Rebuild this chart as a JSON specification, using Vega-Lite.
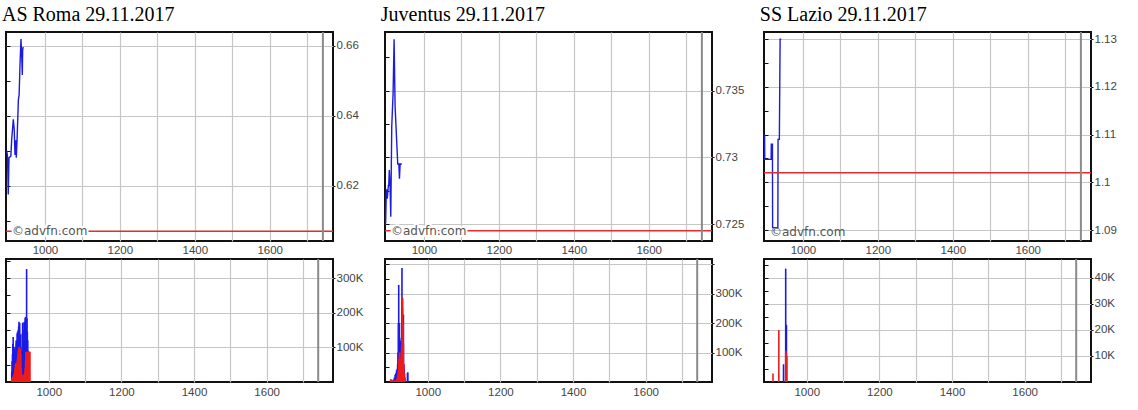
{
  "$schema": "https://vega.github.io/schema/vega-lite/v6.json",
  "padding": {"left": 0, "top": 4, "right": 0, "bottom": 0},
  "background": "white",
  "config": {
    "view": {"stroke": "#111", "strokeWidth": 2},
    "axis": {"labelFont": "Liberation Sans", "labelFontSize": 11.5, "labelColor": "#444", "gridColor": "#c6c6c6", "gridWidth": 1.2, "domain": false, "title": null, "tickColor": "#111"},
    "title": {"font": "Liberation Serif", "fontSize": 20, "fontWeight": "normal", "color": "#000", "anchor": "start", "offset": 6}
  },
  "datasets": {
    "roma_price": [
      {"t": 898, "price": 0.630}, {"t": 900, "price": 0.6285}, {"t": 902, "price": 0.6175}, {"t": 904, "price": 0.628},
      {"t": 909, "price": 0.6285}, {"t": 911, "price": 0.633}, {"t": 915.5, "price": 0.639}, {"t": 918, "price": 0.636},
      {"t": 920, "price": 0.6288}, {"t": 922, "price": 0.633}, {"t": 923.5, "price": 0.628}, {"t": 925.5, "price": 0.633},
      {"t": 929, "price": 0.6445}, {"t": 931, "price": 0.646}, {"t": 933.5, "price": 0.655}, {"t": 936, "price": 0.662},
      {"t": 938, "price": 0.657}, {"t": 939.5, "price": 0.6517}, {"t": 940.5, "price": 0.659}, {"t": 942, "price": 0.6597}
    ],
    "juve_price": [
      {"t": 897.7, "price": 0.72505}, {"t": 899.5, "price": 0.72755}, {"t": 901, "price": 0.72755}, {"t": 902, "price": 0.7269},
      {"t": 905, "price": 0.7279}, {"t": 906, "price": 0.7279}, {"t": 907.5, "price": 0.72905}, {"t": 909.6, "price": 0.7278},
      {"t": 911.4, "price": 0.72555}, {"t": 914, "price": 0.7323}, {"t": 917.6, "price": 0.7348}, {"t": 920.3, "price": 0.73886},
      {"t": 923, "price": 0.7338}, {"t": 927.4, "price": 0.7311}, {"t": 930, "price": 0.7295}, {"t": 933, "price": 0.7295},
      {"t": 934.6, "price": 0.7284}, {"t": 936.4, "price": 0.7295}, {"t": 941, "price": 0.7295}
    ],
    "lazio_price": [
      {"t": 897.6, "price": 1.110}, {"t": 898, "price": 1.1048}, {"t": 915, "price": 1.1048}, {"t": 915.5, "price": 1.108},
      {"t": 918.5, "price": 1.108}, {"t": 919, "price": 1.0905}, {"t": 933, "price": 1.0905}, {"t": 933.5, "price": 1.109},
      {"t": 937, "price": 1.109}, {"t": 939, "price": 1.13}, {"t": 942, "price": 1.13}
    ],
    "roma_vol": [
      {"t": 898, "v_blue": 30000, "v_red": 10000}, {"t": 899, "v_blue": 60000, "v_red": 10000}, {"t": 900, "v_blue": 80000, "v_red": 12000},
      {"t": 901, "v_blue": 110000, "v_red": 15000}, {"t": 902, "v_blue": 130000, "v_red": 15000}, {"t": 903, "v_blue": 100000, "v_red": 15000},
      {"t": 904, "v_blue": 87000, "v_red": 20000}, {"t": 905, "v_blue": 95000, "v_red": 25000}, {"t": 906, "v_blue": 60000, "v_red": 30000},
      {"t": 907, "v_blue": 102000, "v_red": 40000}, {"t": 908, "v_blue": 70000, "v_red": 50000}, {"t": 909, "v_blue": 90000, "v_red": 54000},
      {"t": 910, "v_blue": 120000, "v_red": 54000}, {"t": 911, "v_blue": 110000, "v_red": 54000}, {"t": 912, "v_blue": 120000, "v_red": 54000},
      {"t": 913, "v_blue": 140000, "v_red": 60000}, {"t": 914, "v_blue": 145000, "v_red": 70000}, {"t": 915, "v_blue": 130000, "v_red": 80000},
      {"t": 916, "v_blue": 150000, "v_red": 90000}, {"t": 917, "v_blue": 160000, "v_red": 95000}, {"t": 918, "v_blue": 174000, "v_red": 100000},
      {"t": 919, "v_blue": 150000, "v_red": 100000}, {"t": 920, "v_blue": 170000, "v_red": 97000}, {"t": 921, "v_blue": 120000, "v_red": 95000},
      {"t": 922, "v_blue": 137000, "v_red": 90000}, {"t": 923, "v_blue": 100000, "v_red": 80000}, {"t": 924, "v_blue": 80000, "v_red": 40000},
      {"t": 925, "v_blue": 70000, "v_red": 25000}, {"t": 926, "v_blue": 90000, "v_red": 20000}, {"t": 927, "v_blue": 140000, "v_red": 20000},
      {"t": 928, "v_blue": 170000, "v_red": 20000}, {"t": 929, "v_blue": 172000, "v_red": 20000}, {"t": 930, "v_blue": 120000, "v_red": 20000},
      {"t": 931, "v_blue": 90000, "v_red": 20000}, {"t": 932, "v_blue": 150000, "v_red": 20000}, {"t": 933, "v_blue": 174000, "v_red": 25000},
      {"t": 934, "v_blue": 160000, "v_red": 30000}, {"t": 935, "v_blue": 184000, "v_red": 40000}, {"t": 936, "v_blue": 188000, "v_red": 60000},
      {"t": 937, "v_blue": 120000, "v_red": 85000}, {"t": 938, "v_blue": 100000, "v_red": 87000}, {"t": 939, "v_blue": 326000, "v_red": 87000},
      {"t": 940, "v_blue": 184000, "v_red": 87000}, {"t": 941, "v_blue": 145000, "v_red": 87000}, {"t": 942, "v_blue": 120000, "v_red": 87000},
      {"t": 943, "v_blue": 90000, "v_red": 87000}, {"t": 944, "v_blue": 87000, "v_red": 87000}, {"t": 945, "v_blue": 0, "v_red": 87000},
      {"t": 946, "v_blue": 0, "v_red": 87000}, {"t": 947, "v_blue": 0, "v_red": 87000}, {"t": 948, "v_blue": 0, "v_red": 87000}
    ],
    "juve_vol": [
      {"t": 898, "v_blue": 5000, "v_red": 10000}, {"t": 900, "v_blue": 5000, "v_red": 8000}, {"t": 902, "v_blue": 3000, "v_red": 5000},
      {"t": 905, "v_blue": 8000, "v_red": 3000}, {"t": 908, "v_blue": 15000, "v_red": 5000}, {"t": 910, "v_blue": 25000, "v_red": 5000},
      {"t": 912, "v_blue": 30000, "v_red": 5000}, {"t": 914, "v_blue": 40000, "v_red": 10000}, {"t": 916, "v_blue": 45000, "v_red": 15000},
      {"t": 917, "v_blue": 60000, "v_red": 20000}, {"t": 918, "v_blue": 100000, "v_red": 30000}, {"t": 919, "v_blue": 200000, "v_red": 40000},
      {"t": 920, "v_blue": 330000, "v_red": 60000}, {"t": 921, "v_blue": 150000, "v_red": 80000}, {"t": 922, "v_blue": 200000, "v_red": 100000},
      {"t": 923, "v_blue": 120000, "v_red": 70000}, {"t": 924, "v_blue": 137000, "v_red": 60000}, {"t": 925, "v_blue": 140000, "v_red": 60000},
      {"t": 926, "v_blue": 137000, "v_red": 80000}, {"t": 927, "v_blue": 150000, "v_red": 100000}, {"t": 928, "v_blue": 130000, "v_red": 120000},
      {"t": 929, "v_blue": 387000, "v_red": 150000}, {"t": 930, "v_blue": 250000, "v_red": 250000}, {"t": 931, "v_blue": 200000, "v_red": 285000},
      {"t": 932, "v_blue": 215000, "v_red": 200000}, {"t": 933, "v_blue": 229000, "v_red": 130000}, {"t": 934, "v_blue": 60000, "v_red": 60000},
      {"t": 935, "v_blue": 46000, "v_red": 30000}, {"t": 936, "v_blue": 30000, "v_red": 10000}, {"t": 937, "v_blue": 15000, "v_red": 5000},
      {"t": 944, "v_blue": 30000, "v_red": 0}, {"t": 945, "v_blue": 33000, "v_red": 0}
    ],
    "lazio_vol": [
      {"t": 907, "v_blue": 0, "v_red": 3300}, {"t": 923, "v_blue": 0, "v_red": 20000}, {"t": 936, "v_blue": 6800, "v_red": 0},
      {"t": 942, "v_blue": 43500, "v_red": 12000}, {"t": 943, "v_blue": 22000, "v_red": 11000}, {"t": 944, "v_blue": 21800, "v_red": 11000},
      {"t": 945, "v_blue": 0, "v_red": 10000}
    ]
  },
  "columns": 3,
  "spacing": {"row": 18, "column": 52},
  "bounds": "flush",
  "concat": [
    {
      "title": {"text": "AS Roma 29.11.2017", "dx": -2},
      "width": 327, "height": 209,
      "resolve": {"axis": {"y": "independent"}},
      "layer": [
        {"data": {"name": "roma_price"}, "mark": {"type": "line", "color": "#1c1ce0", "strokeWidth": 1.4},
         "encoding": {
           "x": {"field": "t", "type": "quantitative", "scale": {"domain": [896, 1769], "nice": false, "zero": false},
                 "axis": {"orient": "bottom", "values": [1000, 1100, 1200, 1300, 1400, 1500, 1600, 1700], "format": "d", "labelExpr": "datum.value % 200 == 0 ? datum.label : ''", "ticks": false, "labelPadding": 3}},
           "y": {"field": "price", "type": "quantitative", "scale": {"domain": [0.6042, 0.664], "nice": false, "zero": false},
                 "axis": {"orient": "right", "values": [0.62, 0.64, 0.66], "format": "~g", "tickSize": 2, "labelPadding": 1}}}},
        {"data": {"values": [{}]}, "mark": {"type": "rule", "color": "#e52b2b", "strokeWidth": 1.6},
         "encoding": {"y": {"datum": 0.607, "axis": {"orient": "left", "values": [0.61, 0.62, 0.63, 0.64, 0.65, 0.66], "labels": false, "grid": false, "tickSize": -4}}}},
        {"data": {"values": [{}]}, "mark": {"type": "rule", "color": "#8a8a8a", "strokeWidth": 2},
         "encoding": {"x": {"datum": 1742}}},
        {"data": {"values": [{}]}, "mark": {"type": "text", "font": "DejaVu Sans", "fontSize": 12, "align": "left", "baseline": "middle", "stroke": "white", "strokeWidth": 4, "fill": "white"},
         "encoding": {"x": {"datum": 912}, "y": {"datum": 0.607, "axis": null}, "text": {"value": "©advfn.com"}}},
        {"data": {"values": [{}]}, "mark": {"type": "text", "font": "DejaVu Sans", "fontSize": 12, "align": "left", "baseline": "middle", "color": "#555"},
         "encoding": {"x": {"datum": 912}, "y": {"datum": 0.607, "axis": null}, "text": {"value": "©advfn.com"}}}
      ]
    },
    {
      "title": {"text": "Juventus 29.11.2017", "dx": -2},
      "width": 327, "height": 209,
      "resolve": {"axis": {"y": "independent"}},
      "layer": [
        {"data": {"name": "juve_price"}, "mark": {"type": "line", "color": "#1c1ce0", "strokeWidth": 1.4},
         "encoding": {
           "x": {"field": "t", "type": "quantitative", "scale": {"domain": [896, 1769], "nice": false, "zero": false},
                 "axis": {"orient": "bottom", "values": [1000, 1100, 1200, 1300, 1400, 1500, 1600, 1700], "format": "d", "labelExpr": "datum.value % 200 == 0 ? datum.label : ''", "ticks": false, "labelPadding": 3}},
           "y": {"field": "price", "type": "quantitative", "scale": {"domain": [0.72373, 0.7394], "nice": false, "zero": false},
                 "axis": {"orient": "right", "values": [0.725, 0.73, 0.735], "format": "~g", "tickSize": 2, "labelPadding": 1}}}},
        {"data": {"values": [{}]}, "mark": {"type": "rule", "color": "#e52b2b", "strokeWidth": 1.6},
         "encoding": {"y": {"datum": 0.7245, "axis": {"orient": "left", "values": [0.725, 0.7275, 0.73, 0.7325, 0.735, 0.7375], "labels": false, "grid": false, "tickSize": -4}}}},
        {"data": {"values": [{}]}, "mark": {"type": "rule", "color": "#8a8a8a", "strokeWidth": 2},
         "encoding": {"x": {"datum": 1742}}},
        {"data": {"values": [{}]}, "mark": {"type": "text", "font": "DejaVu Sans", "fontSize": 12, "align": "left", "baseline": "middle", "stroke": "white", "strokeWidth": 4, "fill": "white"},
         "encoding": {"x": {"datum": 912}, "y": {"datum": 0.72448, "axis": null}, "text": {"value": "©advfn.com"}}},
        {"data": {"values": [{}]}, "mark": {"type": "text", "font": "DejaVu Sans", "fontSize": 12, "align": "left", "baseline": "middle", "color": "#555"},
         "encoding": {"x": {"datum": 912}, "y": {"datum": 0.72448, "axis": null}, "text": {"value": "©advfn.com"}}}
      ]
    },
    {
      "title": {"text": "SS Lazio 29.11.2017", "dx": -2},
      "width": 327, "height": 209,
      "resolve": {"axis": {"y": "independent"}},
      "layer": [
        {"data": {"name": "lazio_price"}, "mark": {"type": "line", "color": "#1c1ce0", "strokeWidth": 1.4},
         "encoding": {
           "x": {"field": "t", "type": "quantitative", "scale": {"domain": [896, 1769], "nice": false, "zero": false},
                 "axis": {"orient": "bottom", "values": [1000, 1100, 1200, 1300, 1400, 1500, 1600, 1700], "format": "d", "labelExpr": "datum.value % 200 == 0 ? datum.label : ''", "ticks": false, "labelPadding": 3}},
           "y": {"field": "price", "type": "quantitative", "scale": {"domain": [1.0877, 1.1315], "nice": false, "zero": false},
                 "axis": {"orient": "right", "values": [1.09, 1.1, 1.11, 1.12, 1.13], "format": "~g", "tickSize": 2, "labelPadding": 1}}}},
        {"data": {"values": [{}]}, "mark": {"type": "rule", "color": "#e52b2b", "strokeWidth": 1.6},
         "encoding": {"y": {"datum": 1.102, "axis": {"orient": "left", "values": [1.09, 1.095, 1.1, 1.105, 1.11, 1.115, 1.12, 1.125, 1.13], "labels": false, "grid": false, "tickSize": -4}}}},
        {"data": {"values": [{}]}, "mark": {"type": "rule", "color": "#8a8a8a", "strokeWidth": 2},
         "encoding": {"x": {"datum": 1742}}},
        {"data": {"values": [{}]}, "mark": {"type": "text", "font": "DejaVu Sans", "fontSize": 12, "align": "left", "baseline": "middle", "color": "#555"},
         "encoding": {"x": {"datum": 912}, "y": {"datum": 1.0896, "axis": null}, "text": {"value": "©advfn.com"}}}
      ]
    },
    {
      "width": 327, "height": 123,
      "data": {"name": "roma_vol"},
      "resolve": {"axis": {"y": "independent"}},
      "layer": [
        {"mark": {"type": "bar", "color": "#1c1ce8", "size": 1.6},
         "encoding": {
           "x": {"field": "t", "type": "quantitative", "scale": {"domain": [896, 1769], "nice": false, "zero": false},
                 "axis": {"orient": "bottom", "values": [1000, 1100, 1200, 1300, 1400, 1500, 1600, 1700], "format": "d", "labelExpr": "datum.value % 200 == 0 ? datum.label : ''", "ticks": false, "labelPadding": 4}},
           "y": {"field": "v_blue", "type": "quantitative", "scale": {"domain": [0, 355000], "nice": false},
                 "axis": {"orient": "right", "values": [100000, 200000, 300000], "labelExpr": "(datum.value/1000) + 'K'", "tickSize": 2, "labelPadding": 1}}}},
        {"mark": {"type": "bar", "color": "#ee1c1c", "size": 1.6},
         "encoding": {
           "x": {"field": "t", "type": "quantitative"},
           "y": {"field": "v_red", "type": "quantitative", "axis": {"orient": "left", "values": [50000, 100000, 150000, 200000, 250000, 300000, 350000], "labels": false, "grid": false, "tickSize": -4}}}},
        {"data": {"values": [{}]}, "mark": {"type": "rule", "color": "#8a8a8a", "strokeWidth": 2},
         "encoding": {"x": {"datum": 1742}}}
      ]
    },
    {
      "width": 327, "height": 123,
      "data": {"name": "juve_vol"},
      "resolve": {"axis": {"y": "independent"}},
      "layer": [
        {"mark": {"type": "bar", "color": "#1c1ce8", "size": 1.6},
         "encoding": {
           "x": {"field": "t", "type": "quantitative", "scale": {"domain": [896, 1769], "nice": false, "zero": false},
                 "axis": {"orient": "bottom", "values": [1000, 1100, 1200, 1300, 1400, 1500, 1600, 1700], "format": "d", "labelExpr": "datum.value % 200 == 0 ? datum.label : ''", "ticks": false, "labelPadding": 4}},
           "y": {"field": "v_blue", "type": "quantitative", "scale": {"domain": [0, 418000], "nice": false},
                 "axis": {"orient": "right", "values": [100000, 200000, 300000, 400000], "labelExpr": "datum.value >= 400000 ? '' : (datum.value/1000) + 'K'", "tickSize": 2, "labelPadding": 1}}}},
        {"mark": {"type": "bar", "color": "#ee1c1c", "size": 1.6},
         "encoding": {
           "x": {"field": "t", "type": "quantitative"},
           "y": {"field": "v_red", "type": "quantitative", "axis": {"orient": "left", "values": [50000, 100000, 150000, 200000, 250000, 300000, 350000, 400000], "labels": false, "grid": false, "tickSize": -4}}}},
        {"data": {"values": [{}]}, "mark": {"type": "rule", "color": "#8a8a8a", "strokeWidth": 2},
         "encoding": {"x": {"datum": 1742}}}
      ]
    },
    {
      "width": 327, "height": 123,
      "data": {"name": "lazio_vol"},
      "resolve": {"axis": {"y": "independent"}},
      "layer": [
        {"mark": {"type": "bar", "color": "#1c1ce8", "size": 1.6},
         "encoding": {
           "x": {"field": "t", "type": "quantitative", "scale": {"domain": [896, 1769], "nice": false, "zero": false},
                 "axis": {"orient": "bottom", "values": [1000, 1100, 1200, 1300, 1400, 1500, 1600, 1700], "format": "d", "labelExpr": "datum.value % 200 == 0 ? datum.label : ''", "ticks": false, "labelPadding": 4}},
           "y": {"field": "v_blue", "type": "quantitative", "scale": {"domain": [0, 47200], "nice": false},
                 "axis": {"orient": "right", "values": [10000, 20000, 30000, 40000], "labelExpr": "(datum.value/1000) + 'K'", "tickSize": 2, "labelPadding": 1}}}},
        {"mark": {"type": "bar", "color": "#ee1c1c", "size": 1.6},
         "encoding": {
           "x": {"field": "t", "type": "quantitative"},
           "y": {"field": "v_red", "type": "quantitative", "axis": {"orient": "left", "values": [5000, 10000, 15000, 20000, 25000, 30000, 35000, 40000, 45000], "labels": false, "grid": false, "tickSize": -4}}}},
        {"data": {"values": [{}]}, "mark": {"type": "rule", "color": "#8a8a8a", "strokeWidth": 2},
         "encoding": {"x": {"datum": 1742}}}
      ]
    }
  ]
}
